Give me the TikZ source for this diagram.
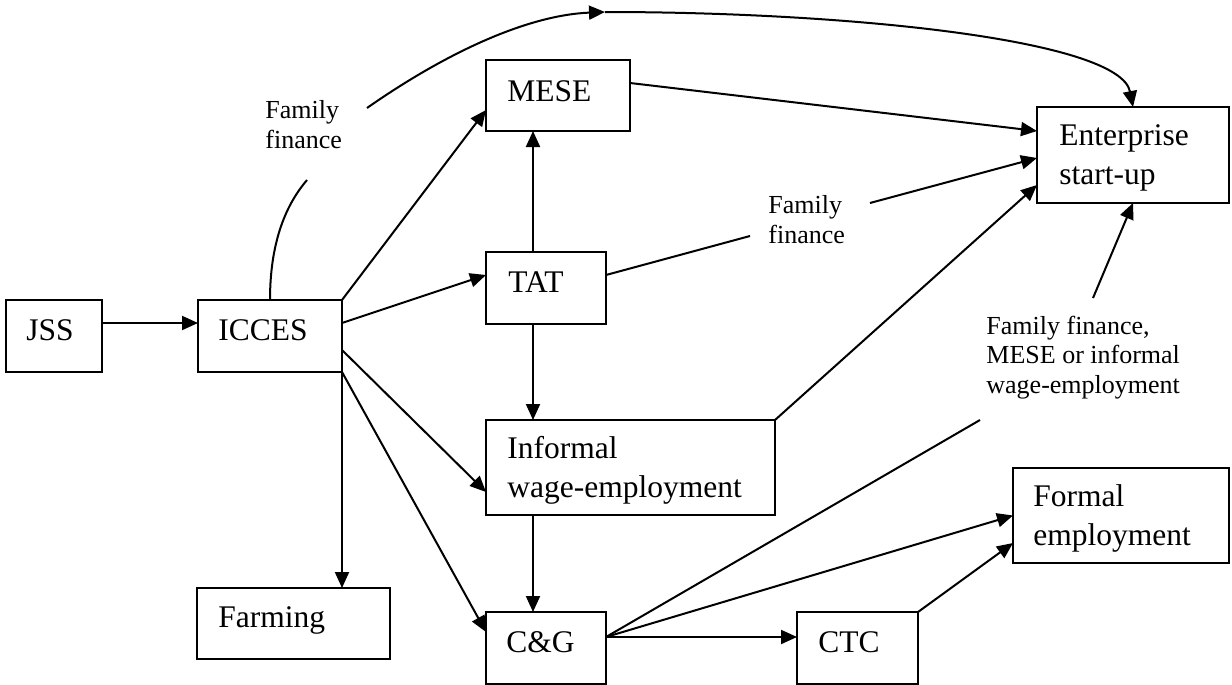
\documentclass[tikz,border=0pt]{standalone}
\usepackage{fontspec}
\setmainfont{Liberation Serif}
\usetikzlibrary{arrows.meta,calc,fit}

\begin{document}
\begin{tikzpicture}[x=0.5pt,y=-0.5pt,
  box/.style={draw, line width=1.2pt, inner sep=0pt, outer sep=0pt},
  boxtext/.style={anchor=base west, inner sep=0pt, align=left,
    font=\fontsize{15.75}{19.25}\selectfont},
  note/.style={anchor=base west, inner sep=0pt, align=left,
    font=\fontsize{13}{15}\selectfont},
  conn/.style={line width=1pt},
  arr/.style={conn, -{Triangle[length=8pt,width=7pt]}},
]
\useasboundingbox (0,0) rectangle (1232,685);

% boxes (multi-line texts are placed by the baseline of their last line)
\node[box, fit={(6,300)(102,372)}] (jss) {};
\node[boxtext] (jss-t) at ($(jss.north west)+(20,40)$) {JSS};
\node[box, fit={(198,300)(342,372)}] (icces) {};
\node[boxtext] (icces-t) at ($(icces.north west)+(20,40)$) {ICCES};
\node[box, fit={(486,60)(630,131)}] (mese) {};
\node[boxtext] (mese-t) at ($(mese.north west)+(21,41)$) {MESE};
\node[box, fit={(486,252)(606,324)}] (tat) {};
\node[boxtext] (tat-t) at ($(tat.north west)+(22,40)$) {TAT};
\node[box, fit={(486,420)(775,515)}] (informal) {};
\node[boxtext] (informal-t) at ($(informal.north west)+(21,77)$) {Informal\\wage-employment};
\node[box, fit={(1037,107)(1229,203)}] (ent) {};
\node[boxtext] (ent-t) at ($(ent.north west)+(22,77)$) {Enterprise\\start-up};
\node[box, fit={(197,588)(390,659)}] (farming) {};
\node[boxtext] (farming-t) at ($(farming.north west)+(21,39)$) {Farming};
\node[box, fit={(486,612)(606,684)}] (cg) {};
\node[boxtext] (cg-t) at ($(cg.north west)+(20,40)$) {C\&G};
\node[box, fit={(797,612)(918,684)}] (ctc) {};
\node[boxtext] (ctc-t) at ($(ctc.north west)+(21,40)$) {CTC};
\node[box, fit={(1013,468)(1229,563)}] (formal) {};
\node[boxtext] (formal-t) at ($(formal.north west)+(20,77)$) {Formal\\employment};

% pathway labels
\node[note] (ff1) at (265,148) {Family\\finance};
\node[note] (ff2) at (768,243) {Family\\finance};
\node[note, font=\fontsize{13}{14.75}\selectfont] (ff3) at (986,393)
  {Family finance,\\MESE or informal\\wage-employment};

% break points of the labelled pathways
\coordinate (ff1a) at (307,180);
\coordinate (ff1b) at (367,108);
\coordinate (peak) at (605,12);
\coordinate (ff2a) at (750,236);
\coordinate (ff2b) at (870,203);
\coordinate (ff3a) at (980,420);
\coordinate (ff3b) at (1093,298);
\coordinate (col) at (533,0);
\coordinate (cgout) at ($(cg.east)+(0,-11)$);

% connectors
\draw[arr] ($(jss.east)+(0,-13)$) -- ($(icces.west)+(0,-13)$);
\draw[arr] (icces.north east) -- ($(mese.west)+(0,14.5)$);
\draw[arr] ($(icces.east)+(0,-13)$) -- ($(tat.west)+(0,-13)$);
\draw[arr] ($(icces.east)+(0,14)$) -- ($(informal.west)+(0,24.5)$);
\draw[arr] (icces.south east) -- (icces.south east |- farming.north);
\draw[arr] (icces.south east) -- ($(cg.west)+(0,-16)$);
\draw[arr] (col |- tat.north) -- (col |- mese.south);
\draw[arr] (col |- tat.south) -- (col |- informal.north);
\draw[arr] (col |- informal.south) -- (col |- cg.north);
\draw[arr] ($(mese.east)+(0,-12.5)$) -- ($(ent.west)+(0,-24)$);
\draw[arr] (informal.north east) -- ($(ent.west)+(0,30)$);
\draw[arr] (cgout) -- ($(ctc.west)+(0,-11)$);
\draw[arr] (cgout) -- (formal.west);
\draw[arr] (ctc.north east) -- ($(formal.west)+(0,27.5)$);

% family finance from ICCES, over the top
\draw[conn] (icces.north) .. controls (270,235) and (290,200) .. (ff1a);
\draw[arr] (ff1b) .. controls (450,50) and (530,15) .. (peak);
\draw[arr] (peak) .. controls (850,12) and (1120,40) .. (ent.north);

% family finance from TAT
\draw[conn] ($(tat.east)+(0,-13)$) -- (ff2a);
\draw[arr] (ff2b) -- ($(ent.west)+(0,3)$);

% from C&G via family finance, MESE or informal wage-employment
\draw[conn] (cgout) -- (ff3a);
\draw[arr] (ff3b) -- (ent.south);
\end{tikzpicture}
\end{document}
